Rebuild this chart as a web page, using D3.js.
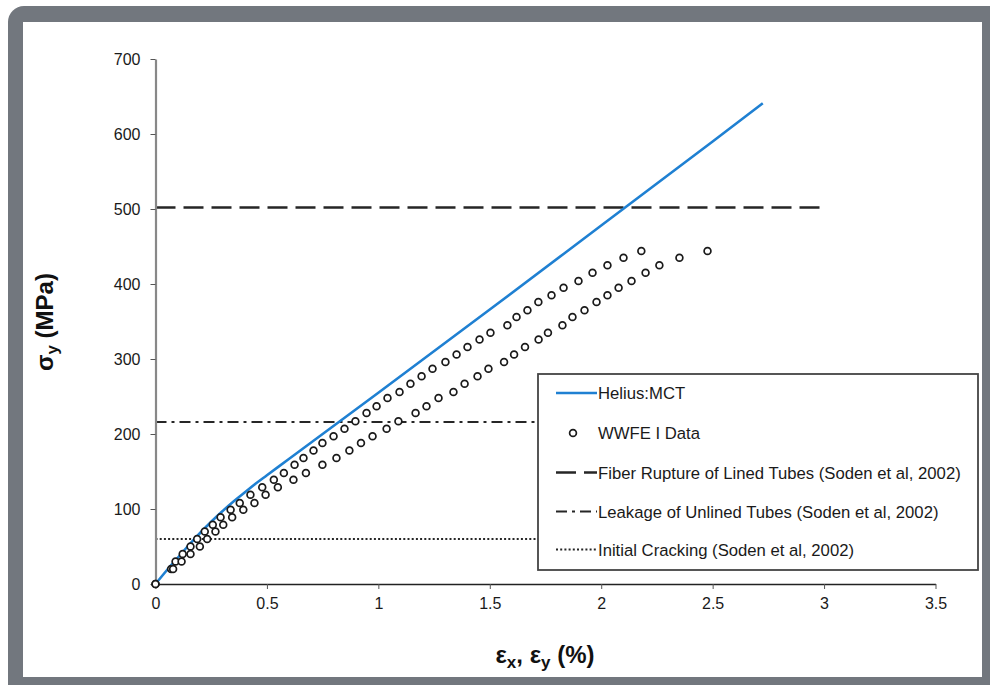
<!DOCTYPE html>
<html><head><meta charset="utf-8">
<script src="https://cdn.jsdelivr.net/npm/d3@7"></script>
<style>
html,body{margin:0;padding:0;background:#fff;}
svg{display:block;font-family:"Liberation Sans",Arial,sans-serif;}
</style></head>
<body>
<svg id="c" width="990" height="685"></svg>
<script>
// ---- data ----
const xTicks = [0, 0.5, 1, 1.5, 2, 2.5, 3, 3.5];
const yTicks = [0, 100, 200, 300, 400, 500, 600, 700];

// WWFE I test data: shared stress levels (MPa), two strain series (%)
const wwfeStress = [0, 20, 30, 40, 50, 60, 70, 79, 89, 99, 108, 119, 129, 139, 148, 159, 168, 178, 188, 197, 207, 217, 228, 237, 248, 256, 267, 277, 287, 296, 306, 316, 326, 335, 345, 356, 365, 376, 385, 395, 404, 415, 425, 435, 444];
const wwfeStrainA = [0, 0.070, 0.090, 0.122, 0.157, 0.187, 0.221, 0.257, 0.292, 0.337, 0.378, 0.426, 0.479, 0.531, 0.576, 0.624, 0.664, 0.709, 0.749, 0.799, 0.848, 0.897, 0.947, 0.992, 1.041, 1.095, 1.144, 1.194, 1.243, 1.301, 1.351, 1.400, 1.454, 1.503, 1.579, 1.620, 1.669, 1.718, 1.777, 1.831, 1.898, 1.961, 2.028, 2.100, 2.180];
const wwfeStrainB = [0, 0.079, 0.117, 0.157, 0.199, 0.232, 0.269, 0.304, 0.344, 0.394, 0.444, 0.494, 0.549, 0.619, 0.675, 0.749, 0.812, 0.870, 0.922, 0.974, 1.037, 1.090, 1.167, 1.216, 1.270, 1.337, 1.387, 1.445, 1.494, 1.564, 1.609, 1.658, 1.719, 1.761, 1.826, 1.871, 1.925, 1.979, 2.028, 2.078, 2.136, 2.199, 2.261, 2.351, 2.477];

// Helius:MCT prediction
const mctStrain = [0, 0.05, 0.1, 0.15, 0.2, 0.25, 0.3, 0.35, 0.4, 0.45, 0.5, 0.6, 0.8, 1.0, 1.5, 2.0, 2.5, 2.725];
const mctStress = [0, 18, 35, 52, 68, 83, 97, 110, 122, 134, 145, 167, 211, 255, 366, 478, 590, 641];

// Soden et al. 2002 reference levels
const refNames = ["Fiber Rupture of Lined Tubes (Soden et al, 2002)", "Leakage of Unlined Tubes (Soden et al, 2002)", "Initial Cracking (Soden et al, 2002)"];
const refStress = [502, 216, 60];
const refStrainEnd = [3.0, 3.0, 3.0];

const legendLabels = ["Helius:MCT", "WWFE I Data"].concat(refNames);

// ---- drawing ----
const svg = d3.select("#c");
// frame
svg.append("rect").attr("x", 8).attr("y", 6).attr("width", 1000).attr("height", 700)
  .attr("rx", 16).attr("fill", "#72777e");
svg.append("rect").attr("x", 23).attr("y", 22).attr("width", 959).attr("height", 655)
  .attr("fill", "#fff");

const x = d3.scaleLinear().domain([0, 3.5]).range([155.5, 935.5]);
const y = d3.scaleLinear().domain([0, 700]).range([584, 59]);

const refStyles = [
  {dash: "20,8", w: 2.6},
  {dash: "11,5,3,5", w: 2.1},
  {dash: "2,2.2", w: 1.8}
];

// reference lines
refStress.forEach((s, i) => {
  svg.append("line")
    .attr("x1", x(0)).attr("x2", x(refStrainEnd[i]))
    .attr("y1", y(s)).attr("y2", y(s))
    .attr("stroke", "#262626").attr("stroke-width", refStyles[i].w)
    .attr("stroke-dasharray", refStyles[i].dash);
});

// axes
const gx = svg.append("g").attr("transform", `translate(0,${y(0)})`)
  .call(d3.axisBottom(x).tickValues(xTicks).tickFormat(d => String(d)).tickSize(5).tickPadding(9).tickSizeOuter(0));
gx.select(".domain").attr("stroke", "#222").attr("stroke-width", 1.6);
gx.selectAll(".tick line").attr("stroke", "#555");
gx.selectAll(".tick text").attr("font-size", 16).attr("fill", "#1a1a1a").attr("font-family", "Liberation Sans, Arial, sans-serif");

const gy = svg.append("g").attr("transform", `translate(${x(0)},0)`)
  .call(d3.axisLeft(y).tickValues(yTicks).tickSize(5).tickPadding(10).tickSizeOuter(0));
gy.select(".domain").attr("stroke", "#888").attr("stroke-width", 2.2);
gy.selectAll(".tick line").attr("stroke", "#555");
gy.selectAll(".tick text").attr("font-size", 16).attr("fill", "#1a1a1a").attr("font-family", "Liberation Sans, Arial, sans-serif");

// MCT line
const line = d3.line().x(d => x(d[0])).y(d => y(d[1])).curve(d3.curveMonotoneX);
svg.append("path").datum(mctStrain.map((e, i) => [e, mctStress[i]]))
  .attr("d", line).attr("fill", "none").attr("stroke", "#1f80d2").attr("stroke-width", 2.6);

// WWFE points
const pts = wwfeStress.map((s, i) => [wwfeStrainA[i], s])
  .concat(wwfeStress.map((s, i) => [wwfeStrainB[i], s]));
svg.append("g").selectAll("circle").data(pts).join("circle")
  .attr("cx", d => x(d[0])).attr("cy", d => y(d[1])).attr("r", 3.4)
  .attr("fill", "#fff").attr("stroke", "#1a1a1a").attr("stroke-width", 1.7);

// axis titles
svg.append("text").attr("x", 545).attr("y", 663).attr("text-anchor", "middle")
  .attr("font-size", 24).attr("font-weight", "bold").attr("fill", "#111")
  .html('ε<tspan font-size="17" dy="5">x</tspan><tspan dy="-5">, ε</tspan><tspan font-size="17" dy="5">y</tspan><tspan dy="-5"> (%)</tspan>');
svg.append("text").attr("transform", "translate(53,322) rotate(-90)").attr("text-anchor", "middle")
  .attr("font-size", 24).attr("font-weight", "bold").attr("fill", "#111")
  .html('σ<tspan font-size="17" dy="5">y</tspan><tspan dy="-5"> (MPa)</tspan>');

// legend
const lg = svg.append("g");
lg.append("rect").attr("x", 538).attr("y", 374).attr("width", 440).attr("height", 196)
  .attr("fill", "#fff").attr("stroke", "#444").attr("stroke-width", 1.8);
const rowY = [393, 433, 472.5, 511.5, 549.5];
legendLabels.forEach((t, i) => {
  const cy = rowY[i];
  if (i === 0) {
    lg.append("line").attr("x1", 556).attr("x2", 597).attr("y1", cy).attr("y2", cy)
      .attr("stroke", "#1f80d2").attr("stroke-width", 2.6);
  } else if (i === 1) {
    lg.append("circle").attr("cx", 573).attr("cy", cy).attr("r", 3.4)
      .attr("fill", "#fff").attr("stroke", "#1a1a1a").attr("stroke-width", 1.7);
  } else {
    const st = refStyles[i - 2];
    lg.append("line").attr("x1", 556).attr("x2", 597).attr("y1", cy).attr("y2", cy)
      .attr("stroke", "#262626").attr("stroke-width", st.w).attr("stroke-dasharray", st.dash);
  }
  lg.append("text").attr("x", 598).attr("y", cy + 6).attr("font-size", 16.7)
    .attr("fill", "#1a1a1a").text(t);
});
</script>
</body></html>
